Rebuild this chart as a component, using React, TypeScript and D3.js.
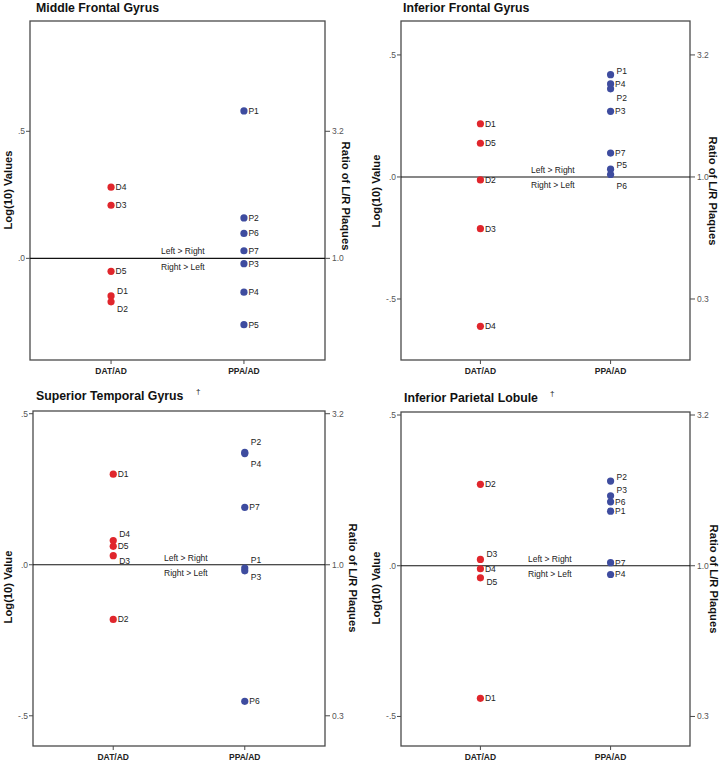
import React from "react";
import * as d3 from "d3";

// ---------- data ----------
const categories = ["DAT/AD", "PPA/AD"];
const leftTicks = [0.5, 0, -0.5];
const leftTickLabels = [".5", ".0", "-.5"];
const rightTickLabels = ["3.2", "1.0", "0.3"];

// Middle Frontal Gyrus
const mfgDatLabels = ["D1", "D2", "D3", "D4", "D5"];
const mfgDatValues = [-0.148, -0.171, 0.209, 0.28, -0.051];
const mfgDatShift = [-5, 7, 0, 0, 0];
const mfgPpaLabels = ["P1", "P2", "P3", "P4", "P5", "P6", "P7"];
const mfgPpaValues = [0.58, 0.159, -0.021, -0.133, -0.261, 0.098, 0.03];
const mfgPpaShift = [0, 0, 0, 0, 0, 0, 0];

// Inferior Frontal Gyrus
const ifgDatLabels = ["D1", "D2", "D3", "D4", "D5"];
const ifgDatValues = [0.218, -0.012, -0.212, -0.612, 0.138];
const ifgDatShift = [0, 0, 0, 0, 0];
const ifgPpaLabels = ["P1", "P2", "P3", "P4", "P5", "P6", "P7"];
const ifgPpaValues = [0.419, 0.361, 0.269, 0.381, 0.032, 0.01, 0.098];
const ifgPpaShift = [-4, 9, 0, 0, -4, 11, 0];

// Superior Temporal Gyrus
const stgDatLabels = ["D1", "D2", "D3", "D4", "D5"];
const stgDatValues = [0.3, -0.181, 0.03, 0.08, 0.061];
const stgDatShift = [0, 0, 5, -7, 0];
const stgPpaLabels = ["P1", "P2", "P3", "P4", "P6", "P7"];
const stgPpaValues = [-0.011, 0.372, -0.02, 0.368, -0.452, 0.19];
const stgPpaShift = [-8, -10, 6, 10, 0, 0];

// Inferior Parietal Lobule
const iplDatLabels = ["D1", "D2", "D3", "D4", "D5"];
const iplDatValues = [-0.44, 0.27, 0.021, -0.01, -0.04];
const iplDatShift = [0, 0, -5, 0, 4];
const iplPpaLabels = ["P1", "P2", "P3", "P4", "P6", "P7"];
const iplPpaValues = [0.181, 0.281, 0.232, -0.029, 0.212, 0.01];
const iplPpaShift = [0, -4, -6, 0, 0, 0];

const RED = "#e0262c";
const BLUE = "#3e4c9f";
const FONT = "Liberation Sans, Arial, Helvetica, sans-serif";

type Panel = {
  title: string;
  dagger: boolean;
  leftTitle: string;
  frame: { x0: number; x1: number; y0: number; y1: number };
  domain: [number, number];
  titleX: number;
  titleY: number;
  leftTitleX: number;
  leftTitleY: number;
  rightTitleX: number;
  rightTitleY: number;
  lrX: number;
  daggerX: number;
  dat: { labels: string[]; values: number[]; shift: number[] };
  ppa: { labels: string[]; values: number[]; shift: number[] };
};

const panels: Panel[] = [
  {
    title: "Middle Frontal Gyrus",
    dagger: false,
    leftTitle: "Log(10) Values",
    frame: { x0: 30, x1: 325, y0: 21, y1: 360 },
    domain: [-0.4, 0.934],
    titleX: 36,
    titleY: 12,
    leftTitleX: 8,
    leftTitleY: 190,
    rightTitleX: 346,
    rightTitleY: 196,
    lrX: 161,
    daggerX: 0,
    dat: { labels: mfgDatLabels, values: mfgDatValues, shift: mfgDatShift },
    ppa: { labels: mfgPpaLabels, values: mfgPpaValues, shift: mfgPpaShift },
  },
  {
    title: "Inferior Frontal Gyrus",
    dagger: false,
    leftTitle: "Log(10) Value",
    frame: { x0: 401, x1: 690, y0: 21, y1: 360 },
    domain: [-0.75, 0.639],
    titleX: 403,
    titleY: 12,
    leftTitleX: 376,
    leftTitleY: 191,
    rightTitleX: 713,
    rightTitleY: 191,
    lrX: 531,
    daggerX: 0,
    dat: { labels: ifgDatLabels, values: ifgDatValues, shift: ifgDatShift },
    ppa: { labels: ifgPpaLabels, values: ifgPpaValues, shift: ifgPpaShift },
  },
  {
    title: "Superior Temporal Gyrus",
    dagger: true,
    leftTitle: "Log(10) Value",
    frame: { x0: 33, x1: 325, y0: 411, y1: 746 },
    domain: [-0.6, 0.509],
    titleX: 36,
    titleY: 400,
    leftTitleX: 8,
    leftTitleY: 587,
    rightTitleX: 353,
    rightTitleY: 578,
    lrX: 164,
    daggerX: 196,
    dat: { labels: stgDatLabels, values: stgDatValues, shift: stgDatShift },
    ppa: { labels: stgPpaLabels, values: stgPpaValues, shift: stgPpaShift },
  },
  {
    title: "Inferior Parietal Lobule",
    dagger: true,
    leftTitle: "Log(10) Value",
    frame: { x0: 401, x1: 690, y0: 412, y1: 746 },
    domain: [-0.598, 0.51],
    titleX: 404,
    titleY: 402,
    leftTitleX: 376,
    leftTitleY: 588,
    rightTitleX: 714,
    rightTitleY: 579,
    lrX: 528,
    daggerX: 550,
    dat: { labels: iplDatLabels, values: iplDatValues, shift: iplDatShift },
    ppa: { labels: iplPpaLabels, values: iplPpaValues, shift: iplPpaShift },
  },
];

function PanelView({ p }: { p: Panel }) {
  const { x0, x1, y0, y1 } = p.frame;
  const x = d3.scalePoint<string>().domain(categories).range([x0, x1]).padding(0.61);
  const y = d3.scaleLinear().domain(p.domain).range([y1, y0]);
  const y0v = y(0);
  const groups = [
    { cat: categories[0], color: RED, g: p.dat },
    { cat: categories[1], color: BLUE, g: p.ppa },
  ];
  return (
    <g>
      <text x={p.titleX} y={p.titleY} fontSize={12.3} fontWeight="bold" fill="#111">
        {p.title}
      </text>
      {p.dagger && (
        <text x={p.daggerX} y={p.titleY - 6} fontSize={8} fill="#111">
          †
        </text>
      )}
      {/* frame */}
      <rect x={x0} y={y0} width={x1 - x0} height={y1 - y0} fill="white" stroke="#4a4a4a" strokeWidth={1.3} />
      {/* left ticks */}
      {leftTicks.map((t, i) =>
        t >= p.domain[0] && t <= p.domain[1] ? (
          <g key={"l" + i}>
            <line x1={x0 - 4} x2={x0} y1={y(t)} y2={y(t)} stroke="#4a4a4a" strokeWidth={1} />
            <text x={x0 - 5} y={y(t)} fontSize={8.5} fill="#555" textAnchor="end" dominantBaseline="central">
              {leftTickLabels[i]}
            </text>
            <line x1={x1} x2={x1 + 5} y1={y(t)} y2={y(t)} stroke="#4a4a4a" strokeWidth={1} />
            <text x={x1 + 7} y={y(t)} fontSize={8.5} fill="#555" dominantBaseline="central">
              {rightTickLabels[i]}
            </text>
          </g>
        ) : null
      )}
      {/* bottom ticks + category labels */}
      {categories.map((c) => (
        <g key={c}>
          <line x1={x(c)} x2={x(c)} y1={y1} y2={y1 + 4} stroke="#4a4a4a" strokeWidth={1} />
          <text x={x(c)} y={y1 + 11} fontSize={8.5} fontWeight="bold" fill="#222" textAnchor="middle" dominantBaseline="central">
            {c}
          </text>
        </g>
      ))}
      {/* zero reference */}
      <line x1={x0} x2={x1} y1={y0v} y2={y0v} stroke="#111" strokeWidth={1.1} />
      <text x={p.lrX} y={y0v - 7} fontSize={8.5} fill="#222" dominantBaseline="central">
        {"Left > Right"}
      </text>
      <text x={p.lrX} y={y0v + 8.5} fontSize={8.5} fill="#222" dominantBaseline="central">
        {"Right > Left"}
      </text>
      {/* axis titles */}
      <text
        transform={`translate(${p.leftTitleX},${p.leftTitleY}) rotate(-90)`}
        fontSize={11.2}
        fontWeight="bold"
        fill="#111"
        textAnchor="middle"
        dominantBaseline="central"
      >
        {p.leftTitle}
      </text>
      <text
        transform={`translate(${p.rightTitleX},${p.rightTitleY}) rotate(90)`}
        fontSize={11.2}
        fontWeight="bold"
        fill="#111"
        textAnchor="middle"
        dominantBaseline="central"
      >
        Ratio of L/R Plaques
      </text>
      {/* points */}
      {groups.map(({ cat, color, g }) =>
        g.values.map((v, i) => (
          <g key={cat + i}>
            <circle cx={x(cat)} cy={y(v)} r={3.6} fill={color} />
            <text
              x={(x(cat) as number) + (g.shift[i] === 0 ? 4.5 : 6)}
              y={y(v) + g.shift[i]}
              fontSize={8.5}
              fill="#222"
              dominantBaseline="central"
            >
              {g.labels[i]}
            </text>
          </g>
        ))
      )}
    </g>
  );
}

export default function App() {
  return (
    <svg width={722} height={763} style={{ position: "absolute", left: 0, top: 0, fontFamily: FONT, background: "white" }}>
      <rect width={722} height={763} fill="white" />
      {panels.map((p) => (
        <PanelView key={p.title} p={p} />
      ))}
    </svg>
  );
}
